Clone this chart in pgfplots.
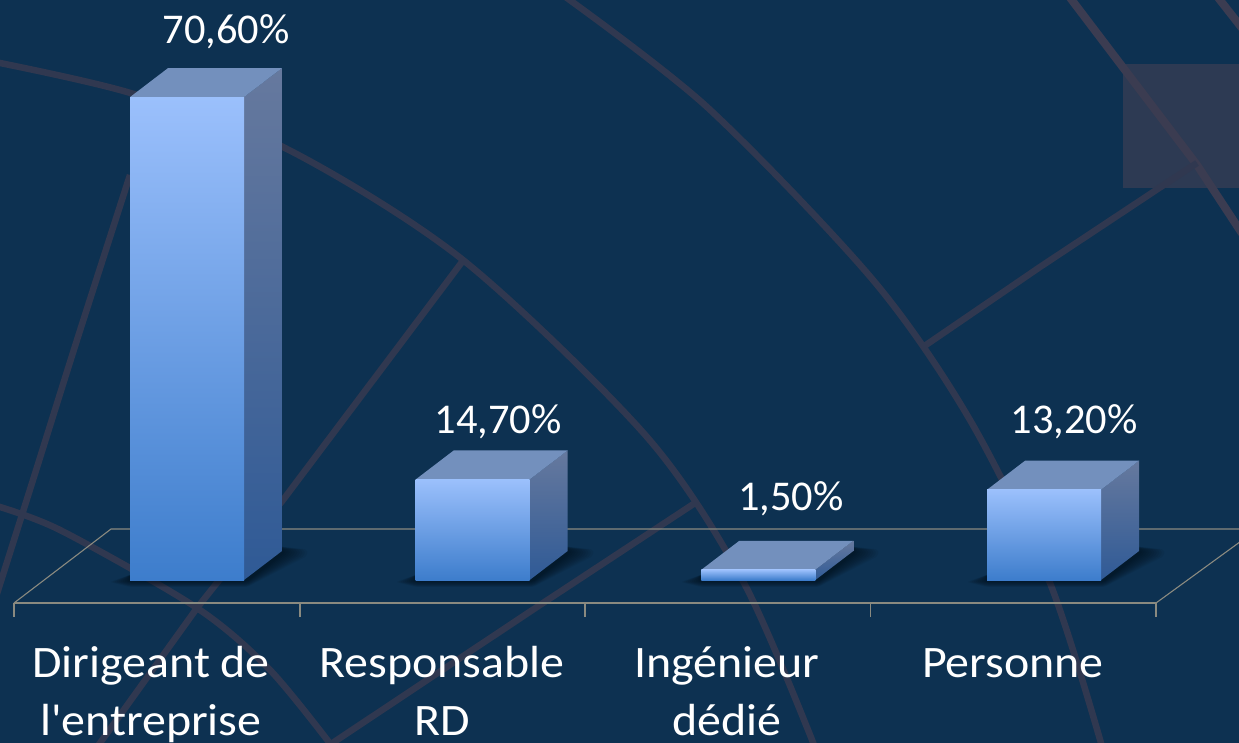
\documentclass[border=0pt]{standalone}
\usepackage{fontspec}
\setmainfont{Carlito}
\newfontfamily\labfont[FakeStretch=1.065]{Carlito}
\usepackage{pgfplots}
\pgfplotsset{compat=1.18}
\definecolor{bg}{HTML}{0D3151}
\definecolor{deco}{HTML}{303850}
\definecolor{decob}{HTML}{3B3C51}
\definecolor{decorect}{HTML}{2D3A53}
\definecolor{floorc}{HTML}{8A8A80}
\definecolor{ftop}{HTML}{9BC0FC}
\definecolor{fmid}{HTML}{78A5EA}
\definecolor{fbot}{HTML}{3D7DCC}
\definecolor{stop}{HTML}{66799E}
\definecolor{smid}{HTML}{50709F}
\definecolor{sbot}{HTML}{2F5A96}
\definecolor{ttop}{HTML}{7390BD}
\pgfplotsset{
  front/.style={draw=none,mark=none,forget plot,top color=ftop,middle color=fmid,bottom color=fbot},
  side/.style={draw=none,mark=none,forget plot,top color=stop,middle color=smid,bottom color=sbot},
  topf/.style={draw=none,mark=none,forget plot,fill=ttop},
}
\newcommand{\barshadow}[2]{%
  \foreach \k in {1,...,10}{%
    \fill[black!75!bg,opacity=0.08,rounded corners=2pt]
      ({#1-2*\k},{581+0.1*\k}) -- (#1,{581+0.6*\k}) -- ({#2+3},{581+0.6*\k})
      -- ({#2+38+2.5*\k},{553+0.3*\k}) -- ({#2+38+2.5*\k},{551-0.15*\k}) -- ({#2+30},{546}) -- (#1,575) -- cycle;}}
\begin{document}
\begin{tikzpicture}
\useasboundingbox (0,0) rectangle (1239pt,743pt);
\clip (0,0) rectangle (1239pt,743pt);
\fill[bg] (0,0) rectangle (1239pt,743pt);
\begin{scope}[x=1pt,y=-1pt,shift={(0pt,743pt)}]
  \fill[decorect] (1123,64) rectangle (1245,188);
  \begin{scope}[draw=deco,line width=6.5pt,line join=round]
    \draw plot[smooth] coordinates {(-10,61) (127,92) (283,147) (463,260) (647,437) (744,583) (816,750)};
    \draw plot[smooth] coordinates {(560,-7) (707,107) (873,280) (970,420) (1050,583) (1103,750)};
    \draw (462,262) -- (283,500) -- (197,608) -- (95,750);
    \draw plot[smooth] coordinates {(130,175) (77,340) (33,480) (-5,600)};
    \draw plot[smooth] coordinates {(-10,504) (60,530) (197,608) (270,670) (335,750)};
    \draw (325,748) -- (540,605) -- (695,503);
  \end{scope}
  \draw[decob,line width=8pt] (1068,-5) -- (1197,165) -- (1245,238);
  \draw[decob,line width=8pt] (1216,-5) -- (1245,32);
  \draw[deco,line width=6.5pt] (1197,163) -- (1040,267) -- (923,347);
  \barshadow{130}{244}
  \barshadow{416}{530}
  \barshadow{701}{815}
  \barshadow{987}{1101}
\end{scope}
\begin{axis}[
  at={(14pt,140pt)},anchor=south west,
  width=1142pt,height=603pt,scale only axis,clip=false,
  xmin=-0.6056,xmax=3.392,ymin=-3.36,ymax=84.798,
  axis y line=none,axis x line=bottom,
  axis line style={-,draw=floorc,line width=1.1pt},
  tick align=outside,
  xtick={-0.126,0.8926,1.890,2.891},
  xticklabels={{\strut Dirigeant de\\l\textquotesingle entreprise},{\strut Responsable\\RD},{\strut Ingénieur\\dédié},{\strut Personne}},
  minor xtick={-0.6056,0.3956,1.393,2.394,3.392},
  major tick length=0pt,minor tick length=14pt,
  every minor tick/.style={draw=floorc,line width=1.1pt},
  xticklabel style={font=\labfont\fontsize{45}{58}\selectfont,align=center,text=white,inner sep=0pt,yshift=-34pt},
]
% floor
\addplot[floorc,line width=1.1pt,mark=none,forget plot] coordinates {(-0.6056,-3.36) (-0.266,7.456) (3.70,7.456)};
\addplot[floorc,line width=1.1pt,mark=none,forget plot] coordinates {(3.392,-3.36) (3.70,6.0)};
% Dirigeant de l'entreprise: 70.6
\addplot[side] coordinates {(0.1995,0) (0.3325,4.24) (0.3325,74.84) (0.1995,70.6)} -- cycle;
\addplot[topf] coordinates {(-0.1995,70.6) (0.1995,70.6) (0.3325,74.84) (-0.0665,74.84)} -- cycle;
\addplot[front] coordinates {(-0.1995,0) (0.1995,0) (0.1995,70.6) (-0.1995,70.6)} -- cycle;
% Responsable RD: 14.7
\addplot[side] coordinates {(1.1995,0) (1.3325,4.24) (1.3325,18.94) (1.1995,14.7)} -- cycle;
\addplot[topf] coordinates {(0.8005,14.7) (1.1995,14.7) (1.3325,18.94) (0.9335,18.94)} -- cycle;
\addplot[front] coordinates {(0.8005,0) (1.1995,0) (1.1995,14.7) (0.8005,14.7)} -- cycle;
% Ingenieur dedie: 1.5
\addplot[side] coordinates {(2.1995,0) (2.3325,4.24) (2.3325,5.74) (2.1995,1.5)} -- cycle;
\addplot[topf] coordinates {(1.8005,1.5) (2.1995,1.5) (2.3325,5.74) (1.9335,5.74)} -- cycle;
\addplot[front] coordinates {(1.8005,0) (2.1995,0) (2.1995,1.5) (1.8005,1.5)} -- cycle;
% Personne: 13.2
\addplot[side] coordinates {(3.1995,0) (3.3325,4.24) (3.3325,17.44) (3.1995,13.2)} -- cycle;
\addplot[topf] coordinates {(2.8005,13.2) (3.1995,13.2) (3.3325,17.44) (2.9335,17.44)} -- cycle;
\addplot[front] coordinates {(2.8005,0) (3.1995,0) (3.1995,13.2) (2.8005,13.2)} -- cycle;
% value labels
\addplot[only marks,mark=none,forget plot,point meta=explicit symbolic,
  nodes near coords={\pgfplotspointmeta\%},
  every node near coord/.append style={anchor=base,inner sep=0pt,text=white,font=\fontsize{42.4}{50}\selectfont}]
  table[x=x,y=y,meta=lab]{
x y lab
0.1365 78.51 70,60
1.0887 21.49 14,70
2.114 10.09 1,50
3.105 21.49 13,20
};
\end{axis}
\end{tikzpicture}
\end{document}
